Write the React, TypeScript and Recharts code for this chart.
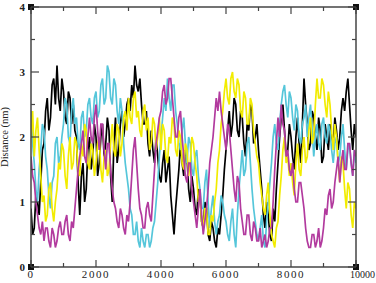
import React from 'react';
import { LineChart, Line, XAxis, YAxis, ReferenceDot } from 'recharts';

// sampled every 50 time units, 0..10000 (one row = 1000 units)
const STEP = 50;

const blackSeries = [
  0.9, 0.5, 0.6, 1.1, 1.0, 0.8, 1.3, 1.8, 1.9, 2.4, 2.6, 2.1, 2.3, 2.8, 2.9, 2.5, 3.1, 2.6, 2.4, 2.9,
  2.7, 2.3, 2.2, 2.7, 2.6, 2.2, 2.5, 2.1, 2.0, 1.3, 0.8, 1.4, 1.6, 1.0, 1.2, 1.8, 2.0, 1.5, 1.7, 2.2,
  2.0, 1.4, 1.6, 2.0, 2.2, 1.7, 1.9, 2.3, 2.1, 1.4, 1.0, 1.9, 2.3, 1.6, 1.8, 2.2, 2.4, 2.0, 2.2, 2.5,
  2.6, 2.4, 2.8, 2.6, 3.1, 2.8, 2.7, 2.9, 2.5, 2.2, 2.2, 2.4, 1.9, 1.7, 2.1, 1.8, 1.6, 2.0, 1.7, 1.4,
  1.3, 1.6, 1.8, 1.3, 1.5, 1.7, 1.1, 0.8, 0.5, 0.9, 1.2, 1.5, 1.9, 1.6, 1.4, 1.8, 1.7, 1.2, 1.0, 1.4,
  1.2, 0.9, 0.8, 1.2, 1.1, 0.7, 0.6, 1.0, 0.9, 0.5, 0.4, 0.7, 0.6, 0.4, 0.3, 0.6, 0.5, 0.8, 1.1, 1.5,
  1.8, 2.1, 2.4, 2.0, 2.2, 2.6, 2.5, 2.1, 2.0, 2.4, 2.3, 1.9, 1.7, 2.2, 2.1, 2.5, 2.4, 1.9, 2.0, 2.2,
  1.8, 1.5, 1.2, 0.8, 0.6, 1.0, 0.8, 0.5, 0.4, 0.9, 0.7, 1.2, 1.6, 2.0, 2.3, 2.5, 2.1, 1.7, 1.8, 2.2,
  2.0, 1.7, 1.5, 2.0, 2.3, 1.9, 1.6, 2.2, 2.9, 2.5, 2.2, 1.8, 1.9, 2.4, 2.3, 2.0, 1.8, 2.3, 2.1, 1.6,
  1.7, 2.2, 2.0, 1.8, 2.2, 2.0, 1.9, 2.3, 2.1, 1.8, 2.0, 2.4, 2.6, 2.4, 2.7, 2.9, 2.5, 2.1, 1.8, 2.2,
  2.0,
];

const cyanSeries = [
  2.4, 1.9, 1.6, 1.2, 1.0, 1.5, 1.8, 2.2, 2.1, 1.7, 1.5, 1.1, 0.9, 1.3, 1.4, 1.9, 2.0, 1.6, 1.7, 2.0,
  2.2, 2.6, 2.5, 2.0, 1.9, 2.4, 2.6, 2.2, 2.3, 1.9, 1.8, 2.3, 2.4, 2.0, 2.1, 2.5, 2.6, 2.3, 2.2, 2.6,
  2.7, 2.3, 2.4, 2.8, 2.9, 2.5, 2.6, 3.1, 3.0, 2.6, 2.5, 2.9, 2.8, 2.4, 2.2, 2.6, 2.4, 1.9, 1.6, 1.4,
  1.2, 0.9, 0.8, 0.5, 0.5, 0.7, 0.4, 0.3, 0.6, 0.4, 0.3, 0.5, 0.5, 0.3, 0.4, 0.6, 0.7, 1.0, 1.3, 1.7,
  2.0, 2.3, 2.6, 2.4, 2.9, 2.6, 2.4, 2.8, 2.8, 2.4, 2.2, 1.9, 1.8, 2.1, 2.3, 1.9, 1.6, 2.0, 1.9, 1.5,
  1.4, 1.7, 1.8, 1.4, 1.2, 0.9, 0.9, 1.3, 1.5, 1.0, 0.6, 0.9, 1.1, 0.7, 0.5, 0.7, 0.8, 1.1, 1.0, 0.8,
  0.7, 0.5, 0.4, 0.7, 0.9, 0.5, 0.3, 0.8, 1.2, 1.5, 1.8, 1.4, 1.5, 1.9, 2.0, 1.6, 1.2, 0.9, 0.7, 0.5,
  0.4, 0.6, 0.8, 0.4, 0.3, 0.7, 1.0, 1.3, 1.6, 2.0, 2.2, 1.9, 1.8, 2.2, 2.5, 2.7, 2.8, 2.5, 2.3, 2.7,
  2.6, 2.3, 2.1, 2.5, 2.4, 2.0, 1.9, 2.2, 2.3, 2.5, 2.0, 2.3, 2.5, 2.1, 1.7, 2.0, 2.2, 1.9, 1.8, 2.2,
  2.3, 2.0, 1.9, 2.2, 2.1, 1.8, 1.6, 1.9, 2.0, 1.6, 1.7, 2.0, 2.2, 1.8, 1.5, 1.8, 1.9, 1.6, 1.4, 1.8,
  1.6,
];

const yellowSeries = [
  2.0, 2.4, 1.7, 2.1, 2.3, 1.8, 1.4, 1.0, 1.1, 0.7, 0.8, 1.2, 1.3, 0.9, 0.7, 1.0, 1.2, 1.6, 1.5, 1.9,
  1.8, 1.4, 1.2, 1.7, 2.0, 1.5, 1.6, 2.0, 1.9, 1.5, 1.4, 1.9, 1.7, 2.2, 2.1, 1.6, 1.5, 1.9, 1.8, 1.4,
  1.6, 1.9, 2.0, 1.5, 1.3, 1.7, 1.8, 1.4, 1.5, 1.9, 2.2, 1.8, 1.7, 2.2, 2.1, 1.7, 1.9, 2.3, 2.4, 2.1,
  2.6, 2.3, 2.2, 2.6, 2.7, 2.3, 2.4, 2.1, 2.0, 2.4, 2.5, 2.1, 2.3, 1.8, 1.9, 2.3, 2.2, 1.8, 2.0, 2.3,
  1.8, 2.2, 2.1, 1.7, 1.6, 2.0, 1.9, 2.3, 2.2, 1.8, 1.7, 2.1, 2.0, 1.6, 1.5, 1.9, 1.8, 1.4, 1.6, 2.0,
  1.9, 1.6, 1.4, 1.0, 1.1, 0.7, 0.6, 0.9, 0.9, 0.5, 0.5, 0.8, 0.7, 1.0, 1.2, 1.6, 1.8, 2.2, 2.4, 2.7,
  2.9, 2.6, 2.5, 2.9, 3.0, 2.7, 2.6, 2.9, 2.8, 2.4, 2.3, 2.7, 2.6, 2.2, 2.2, 2.6, 2.5, 2.1, 1.9, 1.7,
  1.6, 1.3, 1.1, 0.9, 0.8, 1.1, 1.3, 0.8, 0.5, 0.4, 0.3, 0.6, 0.7, 1.1, 1.4, 1.8, 2.0, 1.6, 1.7, 1.4,
  1.6, 1.3, 1.1, 1.6, 1.9, 1.5, 1.4, 1.8, 2.0, 1.6, 1.7, 2.1, 2.3, 1.9, 2.0, 2.5, 2.9, 2.6, 2.6, 2.9,
  2.8, 2.5, 2.3, 2.7, 2.5, 2.1, 1.8, 2.2, 2.0, 1.6, 1.3, 1.7, 1.6, 1.2, 0.9, 1.3, 1.2, 0.8, 0.6, 1.0,
  0.9,
];

const magentaSeries = [
  1.7, 1.4, 1.3, 1.0, 0.8, 0.6, 0.5, 0.7, 0.4, 0.6, 0.6, 0.4, 0.3, 0.6, 0.5, 0.3, 0.4, 0.6, 0.7, 0.5,
  0.5, 0.7, 0.8, 0.5, 0.4, 0.7, 0.6, 0.9, 1.2, 1.5, 1.7, 1.9, 2.1, 1.7, 1.6, 2.0, 2.3, 2.0, 1.9, 2.3,
  2.5, 2.1, 1.8, 2.2, 2.2, 1.8, 1.5, 1.9, 1.9, 1.5, 1.2, 1.0, 0.9, 0.7, 0.6, 0.9, 0.8, 0.6, 0.5, 0.8,
  0.7, 1.0, 1.4, 1.8, 2.0, 1.6, 1.2, 0.9, 0.8, 0.6, 0.6, 0.9, 1.0, 0.8, 0.7, 1.1, 1.5, 1.9, 2.1, 2.3,
  2.4, 2.7, 2.8, 2.5, 2.6, 2.9, 2.9, 2.6, 2.3, 2.0, 2.0, 2.3, 2.4, 2.0, 1.7, 1.4, 1.3, 1.6, 1.6, 1.2,
  1.0, 0.8, 0.6, 0.9, 1.2, 0.8, 0.5, 0.7, 0.9, 1.2, 1.6, 1.8, 2.0, 2.3, 2.6, 2.4, 2.7, 2.4, 2.2, 2.0,
  1.8, 2.2, 2.1, 1.8, 1.5, 1.2, 1.0, 1.4, 1.3, 0.9, 0.7, 0.5, 0.5, 0.8, 0.8, 0.5, 0.4, 0.7, 0.6, 0.4,
  0.4, 0.6, 0.3, 0.4, 0.5, 0.3, 0.4, 0.6, 0.6, 1.0, 1.5, 1.9, 2.3, 2.0, 2.5, 2.2, 2.1, 1.7, 1.8, 1.5,
  1.4, 1.6, 1.2, 1.0, 1.0, 1.3, 1.3, 1.1, 0.9, 0.6, 0.4, 0.3, 0.3, 0.5, 0.5, 0.3, 0.4, 0.6, 0.3, 0.4,
  0.6, 0.9, 0.8, 1.1, 1.2, 0.9, 1.0, 1.3, 1.5, 1.7, 1.3, 1.6, 1.8, 1.5, 1.5, 1.9, 1.9, 1.6, 1.4, 1.8,
  1.7,
];

const xTicks = [0, 1000, 2000, 3000, 4000, 5000, 6000, 7000, 8000, 9000, 10000];
const xLabels = [0, 2000, 4000, 6000, 8000, 10000];
const yTicks = [0, 0.5, 1, 1.5, 2, 2.5, 3, 3.5, 4];
const yLabels = [0, 1, 2, 3, 4];

const data = blackSeries.map((v, i) => ({
  t: i * STEP,
  black: v,
  cyan: cyanSeries[i],
  yellow: yellowSeries[i],
  magenta: magentaSeries[i],
}));

const FONT = '"Liberation Serif", "DejaVu Serif", serif';
const AXIS = '#444';

const BottomTick = (props: any) => {
  const { x, y, payload } = props;
  const major = xLabels.includes(payload.value);
  const last = payload.value === 10000;
  return (
    <g>
      <line x1={x} x2={x} y1={y} y2={y - (major ? 7 : 4)} stroke={AXIS} strokeWidth={1.2} />
      {major && !last && (
        <text x={x} y={y + 11} textAnchor="middle" fontFamily={FONT} fontSize={11} letterSpacing={1.6} fill="#222">
          {payload.value}
        </text>
      )}
      {last && (
        <text x={375} y={y + 11} textAnchor="end" fontFamily={FONT} fontSize={10} fill="#222">
          {payload.value}
        </text>
      )}
    </g>
  );
};

const TopTick = (props: any) => {
  const { x, y, payload } = props;
  const major = xLabels.includes(payload.value);
  return <line x1={x} x2={x} y1={y} y2={y + (major ? 7 : 4)} stroke={AXIS} strokeWidth={1.2} />;
};

const LeftTick = (props: any) => {
  const { x, y, payload } = props;
  const major = yLabels.includes(payload.value);
  return (
    <g>
      <line x1={x} x2={x + (major ? 8 : 4)} y1={y} y2={y} stroke={AXIS} strokeWidth={1.2} />
      {major && (
        <text x={x - 6} y={y + 4} textAnchor="end" fontFamily={FONT} fontSize={11} fontWeight="bold" fill="#222">
          {payload.value}
        </text>
      )}
    </g>
  );
};

const RightTick = (props: any) => {
  const { x, y, payload } = props;
  const major = yLabels.includes(payload.value);
  return <line x1={x} x2={x - (major ? 8 : 4)} y1={y} y2={y} stroke={AXIS} strokeWidth={1.2} />;
};

const Corner = (props: any) => (
  <rect x={props.cx - 3} y={props.cy - 3} width={6} height={6} fill="#111" />
);

export default function App() {
  return (
    <div style={{ position: 'absolute', left: 0, top: 0, width: 376, height: 283, background: '#fff' }}>
      <LineChart width={376} height={283} data={data} margin={{ top: 0, right: 0, bottom: 0, left: 0 }}>
        <XAxis
          dataKey="t"
          type="number"
          domain={[0, 10000]}
          ticks={xTicks}
          interval={0}
          height={16}
          tickSize={0}
          tickMargin={0}
          tick={<BottomTick />}
          axisLine={{ stroke: AXIS, strokeWidth: 1.5 }}
          allowDataOverflow
        />
        <XAxis
          xAxisId="top"
          orientation="top"
          dataKey="t"
          type="number"
          domain={[0, 10000]}
          ticks={xTicks}
          interval={0}
          height={7}
          tickSize={0}
          tickMargin={0}
          tick={<TopTick />}
          axisLine={{ stroke: AXIS, strokeWidth: 1.5 }}
          allowDataOverflow
        />
        <YAxis
          type="number"
          domain={[0, 4]}
          ticks={yTicks}
          interval={0}
          width={31}
          tickSize={0}
          tickMargin={0}
          tick={<LeftTick />}
          axisLine={{ stroke: AXIS, strokeWidth: 1.5 }}
          allowDataOverflow
          label={{ value: 'Distance (nm)', angle: -90, position: 'insideLeft', offset: 4, style: { fontFamily: FONT, fontSize: 10.5, fill: '#222', textAnchor: 'middle' } }}
        />
        <YAxis
          yAxisId="right"
          orientation="right"
          type="number"
          domain={[0, 4]}
          ticks={yTicks}
          interval={0}
          width={20}
          tickSize={0}
          tickMargin={0}
          tick={<RightTick />}
          axisLine={{ stroke: AXIS, strokeWidth: 1.5 }}
          allowDataOverflow
        />
        <Line dataKey="black" stroke="#000000" strokeWidth={1.7} dot={false} isAnimationActive={false} />
        <Line dataKey="cyan" stroke="#55c6da" strokeWidth={1.7} dot={false} isAnimationActive={false} />
        <Line dataKey="yellow" stroke="#f2ec00" strokeWidth={1.7} dot={false} isAnimationActive={false} />
        <Line dataKey="magenta" stroke="#b23a9e" strokeWidth={1.7} dot={false} isAnimationActive={false} />
        <ReferenceDot x={0} y={0} shape={<Corner />} ifOverflow="visible" />
        <ReferenceDot x={0} y={4} shape={<Corner />} ifOverflow="visible" />
        <ReferenceDot x={10000} y={4} shape={<Corner />} ifOverflow="visible" />
        <ReferenceDot x={10000} y={0} shape={<Corner />} ifOverflow="visible" />
      </LineChart>
    </div>
  );
}
